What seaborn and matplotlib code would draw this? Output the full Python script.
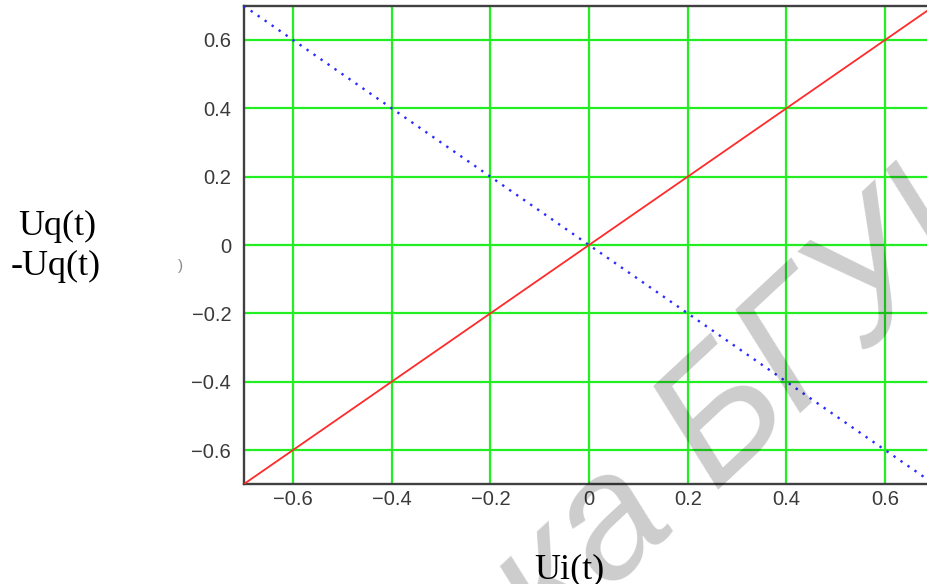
import matplotlib
matplotlib.use("Agg")
import matplotlib.pyplot as plt
import seaborn as sns
import pandas as pd

# Signal values: in-phase component against quadrature and its inverse
ui = [-0.7, 0.7]
uq = [-0.7, 0.7]
neg_uq = [0.7, -0.7]
ticks = [-0.6, -0.4, -0.2, 0.0, 0.2, 0.4, 0.6]
tick_labels = ["\u22120.6", "\u22120.4", "\u22120.2", "0", "0.2", "0.4", "0.6"]
ylabel_lines = ["Uq(t)", "-Uq(t)"]
xlabel = "Ui(t)"
watermark_left = "Библиотека"
watermark_right = "БГУИР"

sns.set_style("white")
plt.rcParams["font.family"] = ["Liberation Sans", "DejaVu Sans"]

W, H = 927, 584
fig = plt.figure(figsize=(W / 100, H / 100), dpi=100)


def fx(px):
    return px / W


def fy(py):
    return 1 - py / H


ax = fig.add_axes([fx(243.7), fy(484.2), 690.7 / W, 478.4 / H])

df = pd.DataFrame({"ui": ui, "uq": uq, "neg_uq": neg_uq})
sns.lineplot(data=df, x="ui", y="uq", ax=ax, color="#ff2a2a", linewidth=1.3,
             zorder=3)
sns.lineplot(data=df, x="ui", y="neg_uq", ax=ax, color="#2a2aff",
             linewidth=1.7, linestyle=(0, (1, 2.6)), zorder=3)

ax.set_xlim(-0.7, 0.7)
ax.set_ylim(-0.7, 0.7)
ax.set_xticks(ticks)
ax.set_yticks(ticks)
ax.set_xticklabels(tick_labels)
ax.set_yticklabels(tick_labels)
ax.set_xlabel("")
ax.set_ylabel("")
ax.set_axisbelow(True)
ax.grid(True, color="#22ee22", linewidth=1.6)
ax.tick_params(axis="both", length=0, labelsize=14.5, labelcolor="#3a3a3a")
ax.tick_params(axis="x", pad=4)
ax.tick_params(axis="y", pad=9)
for side in ["left", "top", "bottom", "right"]:
    ax.spines[side].set_color("#404040")
    ax.spines[side].set_linewidth(1.7)
    ax.spines[side].set_visible(True)

serif = ["Liberation Serif", "DejaVu Serif"]
fig.text(fx(57), fy(235), ylabel_lines[0], ha="center", va="baseline",
         fontsize=26, family=serif, color="black")
fig.text(fx(56), fy(275), ylabel_lines[1], ha="center", va="baseline",
         fontsize=26, family=serif, color="black")
fig.text(fx(569), fy(578), xlabel, ha="center", va="baseline",
         fontsize=26, family=serif, color="black")
fig.text(fx(180), fy(266), ")", ha="center", va="center", fontsize=11,
         color="#8a8a8a")

# Diagonal library watermark over the plot
wm = dict(fontsize=125, style="italic", rotation=43, rotation_mode="anchor",
          va="baseline", color="black", alpha=0.2,
          family=["Liberation Sans", "DejaVu Sans"])
fig.text(fx(713), fy(489.5), watermark_right, ha="left", **wm)
fig.text(fx(678), fy(522), watermark_left, ha="right", **wm)

fig.savefig("out.png", dpi=100)
